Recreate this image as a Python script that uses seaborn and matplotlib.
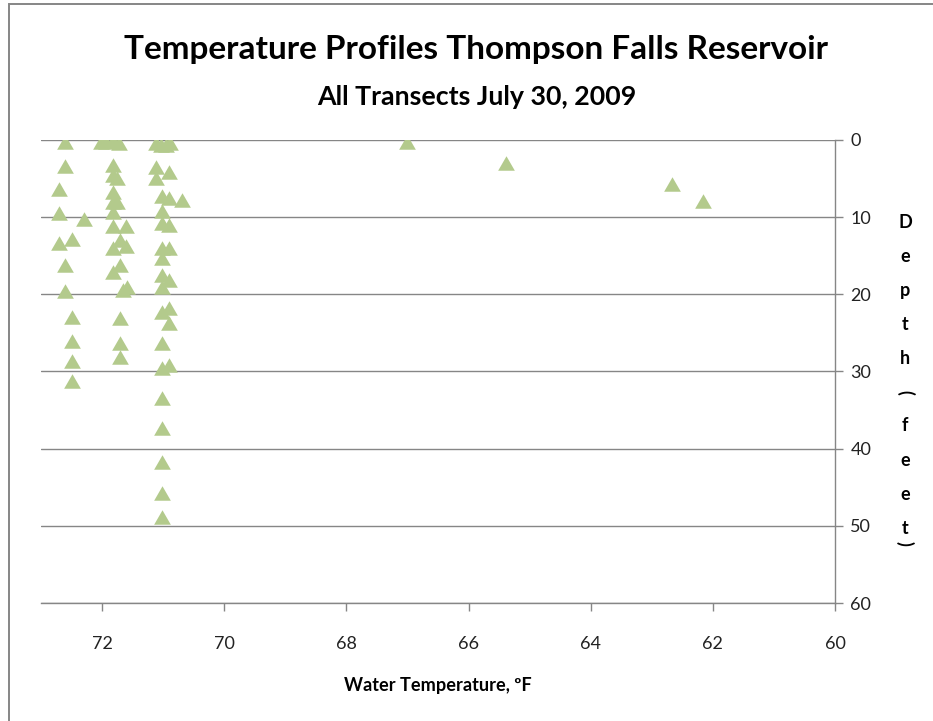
import matplotlib
matplotlib.use("Agg")
import matplotlib.pyplot as plt
import seaborn as sns
import pandas as pd
from matplotlib.path import Path
from matplotlib.patches import Rectangle

# ---------------- data ----------------
temp_left = [72.6, 72.6, 72.7, 72.7, 72.3, 72.5, 72.7, 72.6, 72.6, 72.5, 72.5, 72.5, 72.5]
depth_left = [0.3, 3.4, 6.3, 9.5, 10.3, 12.8, 13.4, 16.2, 19.6, 23.0, 26.1, 28.6, 31.2]

temp_mid = [72.02, 71.93, 71.82, 71.72, 71.82, 71.82, 71.75, 71.82, 71.82, 71.75, 71.82,
            71.82, 71.61, 71.71, 71.61, 71.82, 71.71, 71.82, 71.66, 71.59,
            71.71, 71.71, 71.71]
depth_mid = [0.2, 0.2, 0.1, 0.4, 3.2, 4.5, 4.9, 6.7, 8.0, 8.0, 9.3,
             11.2, 11.2, 13.0, 13.8, 14.0, 16.2, 17.1, 19.5, 19.0,
             23.1, 26.3, 28.1]

temp_right = [71.12, 71.04, 70.96, 70.89, 71.12, 70.90, 71.12, 71.02, 70.90, 70.69, 71.02,
              71.02, 70.90, 71.02, 70.90, 71.02, 71.02, 70.90, 71.02,
              71.02, 70.90, 70.90, 71.02, 71.02, 70.90, 71.02, 71.02, 71.02, 71.02, 71.02]
depth_right = [0.4, 0.6, 0.6, 0.4, 3.5, 4.1, 4.9, 7.3, 7.5, 7.8, 9.2,
               10.8, 11.0, 14.0, 14.0, 15.3, 17.5, 18.1, 19.0,
               22.3, 21.8, 23.7, 26.3, 29.5, 29.1, 33.4, 37.3, 41.7, 45.7, 48.8]

temp_far = [67.0, 65.38, 62.67, 62.16]
depth_far = [0.3, 3.0, 5.7, 7.9]

x_ticks = [72, 70, 68, 66, 64, 62, 60]
y_ticks = [0, 10, 20, 30, 40, 50, 60]

title = "Temperature Profiles Thompson Falls Reservoir"
subtitle = "All Transects July 30, 2009"
x_label = "Water Temperature, ºF"
y_label_chars = ["D", "e", "p", "t", "h", "(", "f", "e", "e", "t", ")"]

df = pd.DataFrame({
    "temp": temp_left + temp_mid + temp_right + temp_far,
    "depth": depth_left + depth_mid + depth_right + depth_far,
})

# ---------------- style ----------------
sns.set_style("white")
plt.rcParams["font.family"] = ["Lato", "DejaVu Sans"]

W, H = 933, 721
fig = plt.figure(figsize=(W / 100, H / 100), dpi=100)
fig.patch.set_facecolor("white")

L, R, T, B = 41, 835, 140, 603
ax = fig.add_axes([L / W, 1 - B / H, (R - L) / W, (B - T) / H])

tri = Path([(0, 0.866), (-1, -0.866), (1, -0.866), (0, 0.866)],
           [Path.MOVETO, Path.LINETO, Path.LINETO, Path.CLOSEPOLY])

sns.scatterplot(data=df, x="temp", y="depth", marker=tri, s=145,
                color="#B3CA8C", linewidth=0, ax=ax, zorder=3, legend=False)

grey = "#868686"
ax.set_xlim(73, 60)
ax.set_ylim(60, 0)
ax.set_xticks(x_ticks)
ax.set_xticklabels([str(v) for v in x_ticks])
ax.set_yticks(y_ticks)
ax.set_yticklabels([str(v) for v in y_ticks])
ax.yaxis.tick_right()
ax.grid(axis="y", color=grey, lw=1.0, zorder=0)
ax.grid(axis="x", visible=False)
for s in ["left", "top"]:
    ax.spines[s].set_visible(False)
for s in ["right", "bottom"]:
    ax.spines[s].set_color(grey)
    ax.spines[s].set_linewidth(1.0)
ax.tick_params(axis="x", direction="out", length=6, width=1, color=grey,
               pad=18, labelsize=13, labelcolor="#222222", bottom=True)
ax.tick_params(axis="y", direction="out", length=6, width=1, color=grey,
               pad=5, labelsize=13, labelcolor="#222222", right=True, left=False)
ax.set_xlabel("")
ax.set_ylabel("")

# ---------------- texts ----------------
renderer = fig.canvas.get_renderer()

def fit_text(x, y, s, target_w, weight="bold", size0=20, **kw):
    t = fig.text(x / W, 1 - y / H, s, ha="center", va="center",
                 fontsize=size0, fontweight=weight, color="black", **kw)
    w = t.get_window_extent(renderer=renderer).width
    t.set_fontsize(size0 * target_w / w)
    return t

fit_text(476, 50, title, 703)
fit_text(477, 97, subtitle, 320)
fit_text(438, 686, x_label, 187)

for i, ch in enumerate(y_label_chars):
    if ch == ")":
        y = 222 + 34 * 9 + 15
    else:
        y = 222 + 34 * i
    rot = -90 if ch in "()" else 0
    fig.text(905 / W, 1 - y / H, ch, rotation=rot, ha="center", va="center",
             fontsize=13, fontweight="bold", color="black")

# chart-area border
fig.patches.append(Rectangle((8.5 / W, -0.05), 1.5, 1.05 - 4.5 / H,
                             transform=fig.transFigure, fill=False,
                             edgecolor=grey, lw=1.4, zorder=0))

fig.savefig("out.png", dpi=100)
